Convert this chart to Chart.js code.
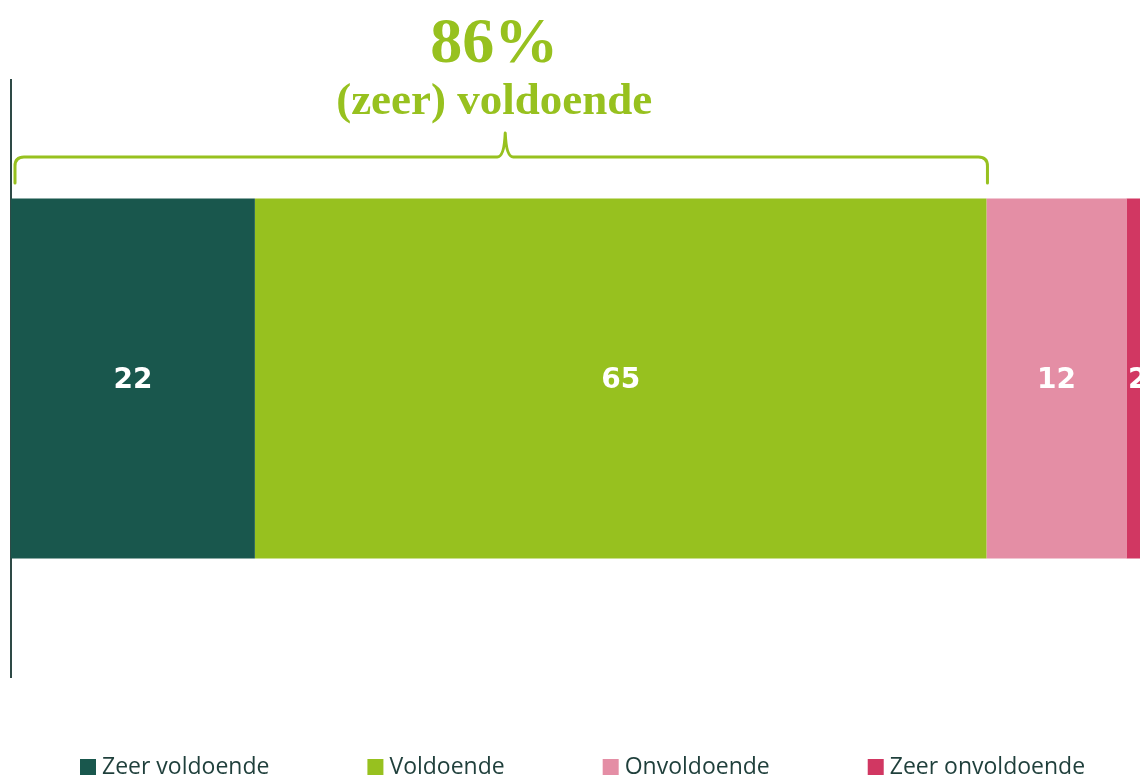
<!DOCTYPE html>
<html>
<head>
<meta charset="utf-8">
<script src="https://cdn.jsdelivr.net/npm/chart.js@4/dist/chart.umd.min.js"></script>
<style>
  html, body { margin: 0; padding: 0; background: #fff; }
  #wrap { width: 1140px; height: 779px; position: relative; }
</style>
</head>
<body>
<div id="wrap"><canvas id="oordeel"></canvas></div>
<script>
// data
let categories = [""];
let seriesLabels = ["Zeer voldoende", "Voldoende", "Onvoldoende", "Zeer onvoldoende"];
let zeerVoldoende = [21.6];
let voldoende = [64.8];
let onvoldoende = [12.4];
let zeerOnvoldoende = [2.0];
let headline = "86%";
let subline = "(zeer) voldoende";

let colors = ["#19574d", "#97c11f", "#e48ea5", "#d13762"];
let green = "#97c11f";

// draws the white numbers in the middle of each segment
let segmentLabels = {
  id: "segmentLabels",
  afterDatasetsDraw(chart) {
    let ctx = chart.ctx;
    ctx.save();
    ctx.font = "bold 28px 'DejaVu Sans'";
    ctx.fillStyle = "#ffffff";
    ctx.textAlign = "center";
    ctx.textBaseline = "middle";
    chart.data.datasets.forEach((ds, i) => {
      let meta = chart.getDatasetMeta(i);
      meta.data.forEach((bar, j) => {
        let cx = (bar.x + bar.base) / 2;
        ctx.fillText(Math.round(ds.data[j]), cx, bar.y + 2);
      });
    });
    ctx.restore();
  },
};

// bracket above the first two segments plus the headline
let bracket = {
  id: "bracket",
  afterDraw(chart) {
    let ctx = chart.ctx;
    let x = chart.scales.x;
    let left = x.getPixelForValue(0) + 4;
    let right = x.getPixelForValue(zeerVoldoende[0] + voldoende[0]) + 1;
    let mid = (left + right) / 2 + 4;
    let yLine = 157, yEnd = 183, yTip = 133, r = 9;

    ctx.save();
    ctx.strokeStyle = green;
    ctx.lineWidth = 3;
    ctx.lineCap = "round";
    ctx.lineJoin = "round";
    ctx.beginPath();
    ctx.moveTo(left, yEnd);
    ctx.lineTo(left, yLine + r);
    ctx.quadraticCurveTo(left, yLine, left + r, yLine);
    ctx.lineTo(mid - 8, yLine);
    ctx.quadraticCurveTo(mid - 1, yLine, mid, yTip);
    ctx.quadraticCurveTo(mid + 1, yLine, mid + 8, yLine);
    ctx.lineTo(right - r, yLine);
    ctx.quadraticCurveTo(right, yLine, right, yLine + r);
    ctx.lineTo(right, yEnd);
    ctx.stroke();

    ctx.fillStyle = green;
    ctx.textAlign = "center";
    ctx.textBaseline = "alphabetic";
    ctx.font = "bold 64px 'Liberation Serif'";
    ctx.fillText(headline, mid - 11, 62);
    ctx.font = "bold 45px 'Liberation Serif'";
    ctx.fillText(subline, mid - 11, 114);
    ctx.restore();
  },
};

// legend with wide gaps between the items
let wideLegend = {
  id: "wideLegend",
  afterDraw(chart) {
    let ctx = chart.ctx;
    ctx.save();
    ctx.font = "23px 'Open Sans'";
    ctx.textBaseline = "middle";
    let xPos = 80;
    let yMid = 767;
    chart.data.datasets.forEach((ds) => {
      ctx.fillStyle = ds.backgroundColor;
      ctx.fillRect(xPos, yMid - 8, 16, 16);
      ctx.fillStyle = "#1f3f3b";
      ctx.fillText(ds.label, xPos + 22, yMid);
      xPos += 22 + ctx.measureText(ds.label).width + 98;
    });
    ctx.restore();
  },
};

let series = [zeerVoldoende, voldoende, onvoldoende, zeerOnvoldoende];

new Chart(document.querySelector("#oordeel"), {
  type: "bar",
  data: {
    labels: categories,
    datasets: series.map((d, i) => ({
      label: seriesLabels[i],
      data: d,
      backgroundColor: colors[i],
      borderWidth: 0,
      barPercentage: 1,
      categoryPercentage: 0.603,
    })),
  },
  options: {
    indexAxis: "y",
    responsive: true,
    maintainAspectRatio: false,
    animation: false,
    layout: { padding: { left: 11, right: 0, top: 80, bottom: 102 } },
    plugins: {
      legend: { display: false },
      tooltip: { enabled: false },
    },
    scales: {
      x: {
        stacked: true,
        display: false,
        min: 0,
        max: 100,
      },
      y: {
        stacked: true,
        display: true,
        grid: { display: false, drawTicks: false },
        ticks: { display: false },
        border: { display: true, color: "#2e4a46", width: 2 },
      },
    },
  },
  plugins: [segmentLabels, bracket, wideLegend],
});
</script>
</body>
</html>
